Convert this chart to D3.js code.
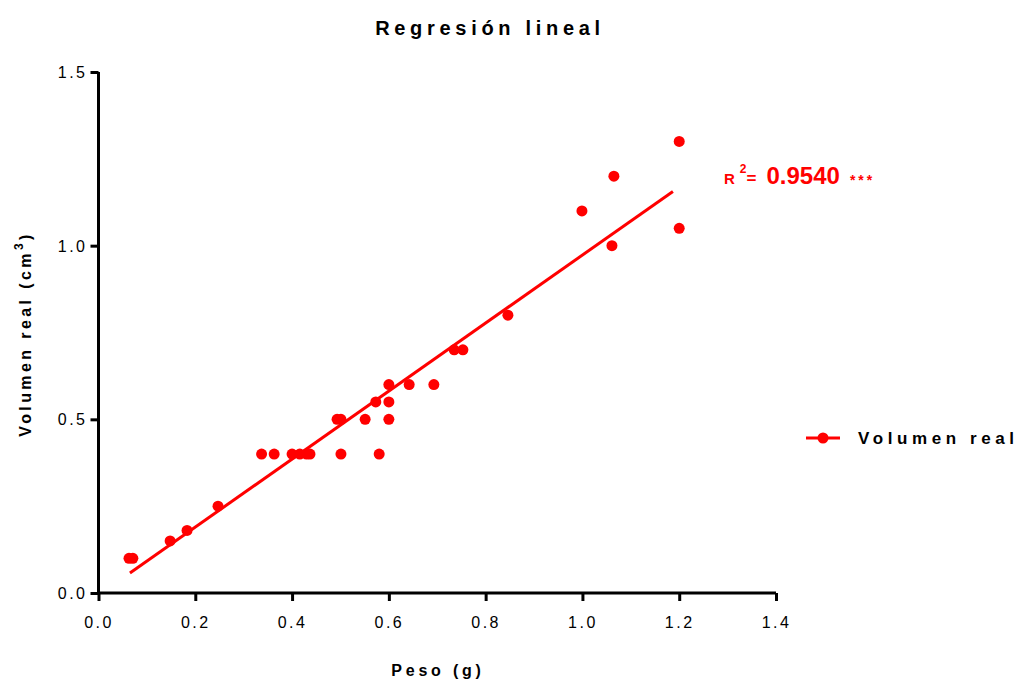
<!DOCTYPE html>
<html>
<head>
<meta charset="utf-8">
<script src="https://cdn.jsdelivr.net/npm/d3@7"></script>
<style>
  body { margin: 0; background: #fff; }
  svg text { font-family: "Liberation Sans", Arial, sans-serif; }
</style>
</head>
<body>
<div class="canvas-graph"></div>
<script>
// peso (g) y volumen real (cm3)
const peso = [0.063, 0.071, 0.148, 0.183, 0.247, 0.337, 0.363, 0.400, 0.416, 0.430,
  0.437, 0.501, 0.580, 0.493, 0.501, 0.551, 0.600, 0.573, 0.600, 0.600,
  0.642, 0.693, 0.735, 0.753, 0.846, 0.999, 1.061, 1.065, 1.200, 1.200];
const volumen = [0.10, 0.10, 0.15, 0.18, 0.25, 0.40, 0.40, 0.40, 0.40, 0.40,
  0.40, 0.40, 0.40, 0.50, 0.50, 0.50, 0.50, 0.55, 0.55, 0.60,
  0.60, 0.60, 0.70, 0.70, 0.80, 1.10, 1.00, 1.20, 1.30, 1.05];
// recta de regresion
const fitX = [0.065, 1.187];
const fitSlope = 0.979;
const fitIntercept = -0.006;
const xTicks = [0, 0.2, 0.4, 0.6, 0.8, 1.0, 1.2, 1.4];
const yTicks = [0, 0.5, 1.0, 1.5];
const r2 = '0.9540';

const red = '#ff0000';
const width = 1020, height = 679;
const m = { left: 98.5, top: 72, right: 244, bottom: 86 };

const svg = d3.select('.canvas-graph')
  .append('svg')
  .attr('width', width)
  .attr('height', height);

const x = d3.scaleLinear().domain([0, 1.4]).range([m.left, width - m.right]);
const y = d3.scaleLinear().domain([0, 1.5]).range([height - m.bottom, m.top]);

// ejes
const xAxis = svg.append('g')
  .attr('transform', `translate(0, ${y(0)})`)
  .call(d3.axisBottom(x).tickValues(xTicks).tickFormat(d3.format('.1f')).tickSizeOuter(0).tickSize(8));
const yAxis = svg.append('g')
  .attr('transform', `translate(${x(0)}, 0)`)
  .call(d3.axisLeft(y).tickValues(yTicks).tickFormat(d3.format('.1f')).tickSizeOuter(0).tickSize(8));

[xAxis, yAxis].forEach(a => {
  a.select('.domain').attr('stroke', '#000').attr('stroke-width', 3);
  a.selectAll('.tick line').attr('stroke', '#000').attr('stroke-width', 3);
  a.selectAll('.tick text')
    .attr('fill', '#000')
    .style('font-size', '16px')
    .style('letter-spacing', '2.5px');
});
xAxis.selectAll('.tick text').attr('dy', '1.5em');
yAxis.selectAll('.tick text').attr('x', -11).attr('dy', '0.35em');
// ejes que se cruzan en el origen
yAxis.select('.domain').attr('d', `M0,${y(1.5)}V${y(0) + 1.5}`);
xAxis.select('.domain').attr('d', `M${x(0) - 1.5},0H${x(1.4)}`);

// titulo y etiquetas
svg.append('text')
  .attr('x', 490).attr('y', 35)
  .attr('text-anchor', 'middle')
  .style('font-size', '20px').style('font-weight', 'bold').style('letter-spacing', '4.7px')
  .text('Regresión lineal');

svg.append('text')
  .attr('x', 438).attr('y', 676)
  .attr('text-anchor', 'middle')
  .style('font-size', '16px').style('font-weight', 'bold').style('letter-spacing', '3.8px')
  .text('Peso (g)');

const yl = svg.append('text')
  .attr('transform', 'translate(31, 334) rotate(-90)')
  .attr('text-anchor', 'middle')
  .style('font-size', '16px').style('font-weight', 'bold').style('letter-spacing', '3.4px');
yl.append('tspan').text('Volumen real (cm');
yl.append('tspan').attr('dy', -8).style('font-size', '12px').text('3');
yl.append('tspan').attr('dy', 8).text(')');

// recta
const line = d3.line()
  .x(d => x(d))
  .y(d => y(fitSlope * d + fitIntercept));
svg.append('path')
  .attr('d', line(fitX))
  .attr('fill', 'none')
  .attr('stroke', red)
  .attr('stroke-width', 3);

// puntos
svg.append('g').selectAll('circle')
  .data(peso.map((p, i) => [p, volumen[i]]))
  .enter()
  .append('circle')
  .attr('cx', d => x(d[0]))
  .attr('cy', d => y(d[1]))
  .attr('r', 5.5)
  .attr('fill', red);

// R2
const rt = svg.append('text')
  .attr('x', 724).attr('y', 184)
  .attr('fill', red).style('font-weight', 'bold');
rt.append('tspan').style('font-size', '15px').text('R');
rt.append('tspan').attr('dx', 5).attr('dy', -11).style('font-size', '12px').text('2');
rt.append('tspan').attr('dy', 11).style('font-size', '17px').text('=');
rt.append('tspan').attr('dx', 10).style('font-size', '24px').text(r2);
rt.append('tspan').attr('dx', 10).attr('dy', 1).style('font-size', '14px').style('letter-spacing', '3px').text('***');

// leyenda
const legend = svg.append('g').attr('transform', 'translate(806, 438)');
legend.append('line')
  .attr('x1', 0).attr('x2', 34)
  .attr('stroke', red).attr('stroke-width', 3);
legend.append('circle').attr('cx', 17).attr('r', 5.5).attr('fill', red);
legend.append('text')
  .attr('x', 52).attr('dy', '0.35em')
  .style('font-size', '17px').style('font-weight', 'bold').style('letter-spacing', '4.6px')
  .text('Volumen real');
</script>
</body>
</html>
